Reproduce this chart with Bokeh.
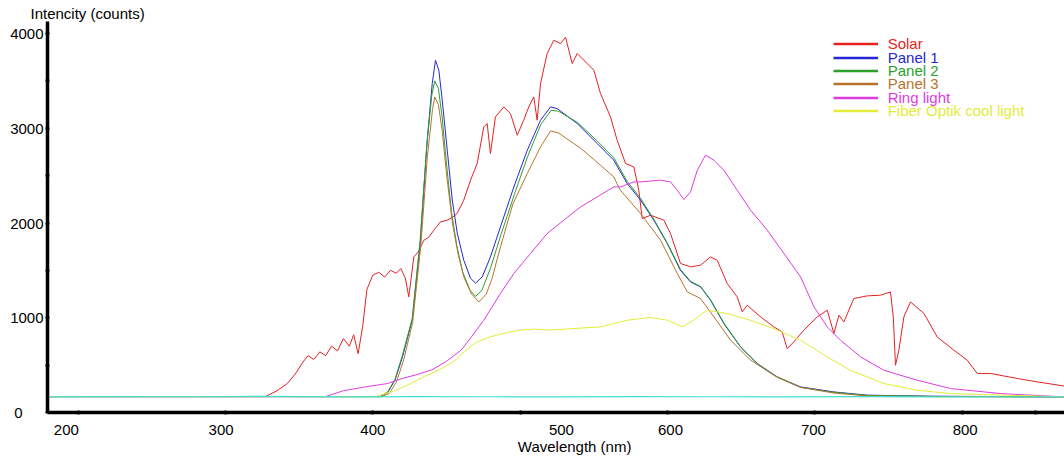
from bokeh.plotting import figure
from bokeh.models import Range1d, FixedTicker, Legend, LegendItem, Title
from bokeh.embed import file_html
from bokeh.resources import INLINE

# ---------------- data (wavelength in nm, intensity in counts) ----------------
solar_nm = [179, 327, 335, 342, 348, 352, 356, 360, 364, 368, 372, 376, 380, 384, 387, 390, 393, 396,
            400, 404, 408, 412, 416, 419, 422, 424.4, 427.8, 431, 434.6, 438, 441.4, 445.9, 450.4, 454,
            457.2, 461.7, 466.3, 470.8, 475.3, 477.6, 479.8, 483.2, 488.9, 493.4, 498, 502.4, 505.8,
            509.2, 511.5, 513.8, 518.3, 522.8, 527.4, 530.8, 535.3, 538.7, 545.5, 550, 554.5, 561.3,
            565.8, 571.5, 577.1, 580.5, 582.8, 588.5, 597.5, 602, 608.8, 615.6, 622.4, 629.2, 633.7,
            640.5, 647.3, 650.7, 654.1, 663.1, 672.2, 677.8, 681.2, 685.7, 692.5, 701.6, 708.4, 712.9,
            716.3, 719.7, 726.4, 735.5, 744.5, 751.3, 753.2, 754.7, 757, 760.4, 764.9, 774, 783, 794.3,
            803.4, 810.2, 819.2, 837.4, 851, 869]
solar_counts = [168, 168, 230, 306, 420, 520, 600, 560, 640, 600, 700, 650, 780, 700, 820, 620, 900, 1300,
                1450, 1480, 1430, 1500, 1470, 1520, 1420, 1220, 1642, 1700, 1818, 1850, 1924, 2012, 2030, 2060,
                2100, 2241, 2452, 2628, 3014, 3050, 2733, 3120, 3225, 3155, 2927, 3085, 3225,
                3331, 3085, 3472, 3789, 3929, 3894, 3960, 3683, 3789, 3683, 3613, 3367, 3120,
                2874, 2628, 2592, 2346, 2047, 2082, 2030, 1889, 1573, 1537, 1555, 1642, 1607,
                1361, 1220, 1062, 1132, 1009, 903, 851, 675, 745, 869, 1009, 1080, 834,
                1027, 956, 1203, 1231, 1238, 1273, 1009, 499, 658, 1009, 1167, 1045, 798, 658,
                552, 412, 412, 359, 323, 280]

panel1_nm = [179, 405, 410, 415, 420, 426.7, 432.3, 436.9, 440.3, 442.5, 444.8, 447.1, 450.5, 453.9, 457.3,
             461.7, 466.3, 469.7, 474.2, 479.8, 486.6, 495.7, 504.8, 513.8, 520.6, 525.1, 538.7, 552.3,
             563.5, 572.6, 581.7, 590.7, 599.8, 608.8, 615.6, 622.4, 629.2, 638.2, 649.5, 660.9, 674.4,
             690.3, 712.9, 735.5, 780.7, 869]
panel1_counts = [168, 168, 210, 340, 580, 974, 1818, 2874, 3472, 3718, 3613, 3296, 2768, 2241, 1892,
                 1607, 1417, 1365, 1431, 1642, 1959, 2381, 2768, 3085, 3225, 3208, 3050, 2839,
                 2663, 2417, 2241, 2030, 1784, 1499, 1378, 1326, 1185, 939, 692, 517, 376,
                 270, 217, 183, 172, 165]

panel2_nm = [179, 405, 410, 415, 420, 426.7, 432, 436.5, 440, 442, 444.5, 447, 450, 453.5, 457, 461, 466,
             469.7, 474, 480, 487, 496, 505, 514, 521, 526, 539, 552, 563.5, 572.6, 581.7, 590.7, 599.8,
             608.8, 615.6, 622.4, 629.2, 638.2, 649.5, 660.9, 674.4, 690.3, 712.9, 735.5, 780.7, 869]
panel2_counts = [168, 168, 215, 350, 600, 990, 1800, 2800, 3350, 3500, 3420, 3120, 2620, 2100, 1760, 1480, 1290,
                 1225, 1290, 1530, 1880, 2300, 2700, 3040, 3190, 3180, 3060, 2870, 2690, 2440, 2260, 2040, 1790,
                 1510, 1385, 1330, 1190, 945, 695, 515, 372, 265, 213, 180, 170, 165]

panel3_nm = [179, 406, 411, 416, 421, 427, 432.5, 437, 440.5, 442, 444.5, 447, 450, 454, 458, 462, 467, 472,
             477, 481, 486.6, 495, 504.8, 513.8, 520.6, 526, 541, 554.5, 563.5, 568, 581.7, 595.3, 606.6,
             613.4, 622.4, 631.5, 642.8, 656.4, 672.1, 690.3, 712.9, 735.5, 780.7, 869]
panel3_counts = [168, 168, 200, 320, 560, 950, 1750, 2700, 3200, 3330, 3250, 2980, 2520, 2000, 1660, 1420, 1250, 1167,
                 1250, 1420, 1748, 2200, 2522, 2803, 2972, 2950, 2790, 2610, 2487, 2346, 2100, 1818, 1467,
                 1273, 1203, 1009, 763, 552, 394, 265, 205, 175, 168, 165]

ring_nm = [179, 368, 380, 395, 410, 420, 430, 440, 450, 460, 467, 475.3, 486.6, 495.7, 507, 518.3, 529.6,
           540.9, 552.3, 563.5, 568, 577.1, 581.7, 595.3, 602, 606.6, 611.1, 615.6, 620.2, 625.8, 631.5,
           638.2, 647.3, 656.4, 667.7, 679, 690.3, 699.4, 708.4, 717.4, 731, 746.8, 769.4, 792, 826, 869]
ring_counts = [168, 168, 230, 270, 306, 360, 400, 450, 540, 660, 800, 974, 1256, 1467, 1678, 1889, 2030,
               2170, 2275, 2381, 2381, 2434, 2434, 2452, 2434, 2346, 2248, 2328, 2557, 2716, 2663,
               2557, 2346, 2135, 1924, 1678, 1431, 1115, 903, 763, 587, 446, 341, 253, 200, 165]

fiber_nm = [179, 402, 415, 425, 435, 445, 455, 462, 470, 480, 490, 500, 510, 520, 530, 540, 554.5, 572.6,
            588.5, 599.8, 610, 617.8, 626.6, 640.2, 656.3, 672.1, 690.3, 708.4, 724, 746.8, 769.4, 792, 869]
fiber_counts = [168, 168, 230, 300, 380, 450, 540, 640, 740, 800, 840, 870, 880, 870, 880, 890, 903, 974,
                1003, 974, 903, 974, 1080, 1045, 974, 886, 763, 587, 446, 306, 235, 200, 165]

base_nm = [179, 230, 280, 330, 380, 430, 480, 530, 580, 630, 680, 730, 780, 830, 869]
base_counts = [165, 168, 166, 170, 165, 168, 166, 165, 168, 166, 165, 167, 165, 166, 165]

series_names = ["Solar", "Panel 1", "Panel 2", "Panel 3", "Ring light", "Fiber Optik cool light"]
series_colors = ["#E42222", "#2626D6", "#2CA02C", "#B8732F", "#DE3CDE", "#E2EC38"]
base_color = "#40E0D0"

x_tick_labels = ["200", "300", "400", "500", "600", "700", "800"]
x_label_pos = [192, 297, 400, 528, 602, 699, 802]
x_minor = [200, 300, 400, 500, 600, 700, 800, 850]
y_ticks = [0, 1000, 2000, 3000, 4000]
y_minor = [500, 1500, 2500, 3500]

FONT = "Liberation Sans"
NAN = float("nan")

p = figure(width=1064, height=456, output_backend="svg", toolbar_location=None,
           x_range=Range1d(179.2, 869.4), y_range=Range1d(0, 4127),
           min_border_left=47, min_border_right=0, min_border_top=21, min_border_bottom=44)
p.grid.visible = False
p.outline_line_color = None
p.background_fill_color = "white"
p.border_fill_color = "white"

xa = p.xaxis[0]
xa.ticker = FixedTicker(ticks=x_label_pos, minor_ticks=x_minor)
xa.major_label_overrides = dict(zip(x_label_pos, x_tick_labels))
xa.major_tick_line_color = None
xa.major_tick_in = 0
xa.major_tick_out = 0
xa.minor_tick_line_color = "black"
xa.minor_tick_in = 2
xa.minor_tick_out = 2
xa.minor_tick_line_width = 2
xa.axis_line_width = 3.5
xa.axis_line_color = "black"
xa.major_label_standoff = 10
xa.major_label_text_font = FONT
xa.major_label_text_font_size = "15px"
xa.major_label_text_color = "black"

ya = p.yaxis[0]
ya.ticker = FixedTicker(ticks=y_ticks, minor_ticks=y_minor)
ya.major_label_overrides = {0: "0\u00a0\u00a0\u00a0\u00a0\u00a0"}
ya.major_tick_in = 2
ya.major_tick_out = 2
ya.major_tick_line_width = 2
ya.minor_tick_in = 2
ya.minor_tick_out = 2
ya.minor_tick_line_width = 2
ya.minor_tick_line_color = "black"
ya.axis_line_width = 3.5
ya.axis_line_color = "black"
ya.major_label_standoff = 2
ya.major_label_text_font = FONT
ya.major_label_text_font_size = "15px"
ya.major_label_text_color = "black"

all_data = [(solar_nm, solar_counts), (panel1_nm, panel1_counts), (panel2_nm, panel2_counts),
            (panel3_nm, panel3_counts), (ring_nm, ring_counts), (fiber_nm, fiber_counts)]

for (xs, ys), col in zip(all_data, series_colors):
    p.line(xs, ys, line_color=col, line_width=1)
p.line(base_nm, base_counts, line_color=base_color, line_width=1.2)

# legend: one legend per entry so each label gets its series colour
frame_bottom = 412.0
frame_left = 47.0
row_h = 13.0
row_top0 = 39.2
row_step = 13.4
for i, (name, col) in enumerate(zip(series_names, series_colors)):
    proxy = p.line([NAN], [NAN], line_color=col, line_width=2.5)
    top = row_top0 + i * row_step
    leg = Legend(items=[LegendItem(label=name, renderers=[proxy])],
                 location=(832.7 - frame_left, frame_bottom - top - row_h),
                 glyph_width=45, glyph_height=13, label_height=13, label_standoff=10,
                 padding=0, margin=0, spacing=0,
                 border_line_color=None, background_fill_alpha=0,
                 label_text_color=col, label_text_font=FONT, label_text_font_size="15px")
    p.add_layout(leg)

# axis titles as side-panel titles (not clipped by the frame)
p.add_layout(Title(text="Intencity (counts)", align="left", offset=30 - frame_left, standoff=0,
                   text_font=FONT, text_font_size="15px", text_font_style="normal",
                   text_color="black", vertical_align="bottom"), "above")
p.add_layout(Title(text="Wavelength (nm)", align="left", offset=517.3 - frame_left, standoff=0,
                   text_font=FONT, text_font_size="15px", text_font_style="normal",
                   text_color="black", vertical_align="top"), "below")

open("out.html", "w").write(file_html(p, INLINE))
